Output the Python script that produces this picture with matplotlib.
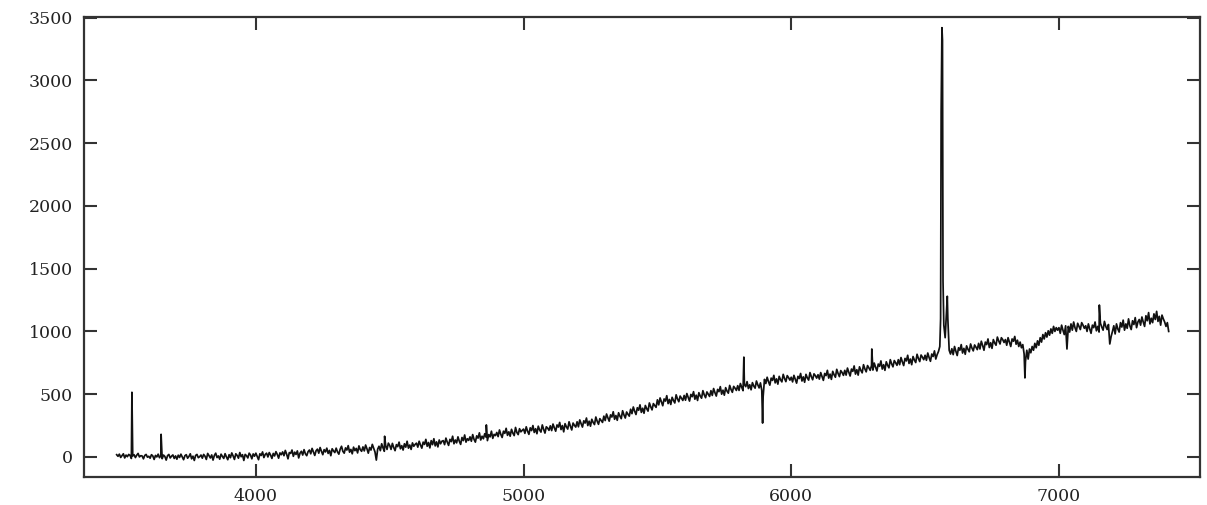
import numpy as np
import matplotlib
matplotlib.use("Agg")
import matplotlib.pyplot as plt

wave_start = 3480
wave_step = 5
flux_grid = [
    18, 5, 22, -4,                                                                          # 3480
    10, 25, -8, 15, 2, 20, 12, -12, 8, 18, -5, 14, 28, 0, 10, 8, -15, 12, 20, -2,           # 3500
    5, -10, 18, 8, -20, 12, 0, 22, -6, 10, -14, 15, 4, -25, 10, 20, -8, 6, 16, -12,         # 3600
    8, -18, 14, -4, 22, 0, -22, 10, 18, -10, 4, 25, -15, 6, -28, 12, 20, -6, 2, 15,         # 3700
    -10, 20, 6, -20, 28, 10, -8, 16, -25, 12, 30, -5, 8, -18, 22, 4, -12, 26, 0, -22,       # 3800
    18, -6, 32, 8, -20, 25, 12, -10, 35, 2, 18, -28, 20, 10, -8, 30, 15, -15, 24, 6,        # 3900
    30, 5, -22, 25, 12, 40, -5, 20, 30, 0, 35, 15, -12, 28, 8, 42, 20, -10, 32, 18,         # 4000
    40, 10, 52, 22, -15, 35, 28, 55, 5, 38, 20, 48, -8, 30, 45, 15, 58, 25, 10, 42,         # 4100
    55, 25, 68, 40, 12, 50, 62, 30, 75, 45, 18, 58, 40, 70, 28, 52, 10, 65, 48, 35,         # 4200
    70, 40, 22, 62, 85, 45, 30, 72, 55, 90, 38, 60, 25, 78, 50, 68, 32, 88, 58, 45,         # 4300
    80, 48, 95, 65, 30, 75, 55, 100, 70, 40, -25, 62, 85, 50, 105, 72, 45, 90, 60, 110,     # 4400
    92, 60, 108, 75, 50, 98, 82, 118, 65, 90, 55, 105, 78, 125, 70, 95, 60, 112, 85, 100,   # 4500
    110, 78, 125, 95, 70, 118, 100, 140, 85, 115, 72, 130, 98, 145, 88, 120, 80, 135, 105, 125,        # 4600
    130, 98, 150, 118, 92, 140, 122, 165, 105, 135, 112, 160, 125, 100, 155, 130, 175, 118, 145, 132,  # 4700
    160, 125, 178, 140, 118, 168, 150, 192, 135, 165, 145, 185, 158, 130, 178, 160, 205, 148, 180, 170,  # 4800
    195, 162, 215, 180, 155, 205, 188, 228, 172, 200, 165, 220, 190, 170, 235, 195, 178, 225, 200, 212,  # 4900
    222, 188, 240, 205, 180, 232, 210, 250, 195, 225, 185, 245, 215, 198, 255, 220, 190, 240, 230, 212,  # 5000
    248, 210, 262, 232, 205, 255, 238, 275, 218, 250, 200, 265, 240, 222, 280, 245, 215, 270, 252, 238,  # 5100
    280, 240, 295, 265, 238, 288, 270, 310, 250, 285, 245, 300, 275, 258, 318, 285, 260, 305, 290, 275,  # 5200
    325, 290, 342, 312, 285, 335, 318, 360, 300, 330, 292, 352, 325, 305, 368, 335, 310, 358, 340, 325,  # 5300
    380, 345, 398, 365, 338, 392, 372, 415, 355, 388, 348, 410, 385, 365, 430, 400, 375, 425, 410, 395,  # 5400
    455, 415, 470, 440, 408, 462, 445, 488, 425, 458, 418, 475, 450, 430, 495, 462, 440, 485, 468, 450,  # 5500
    490, 452, 505, 475, 445, 498, 480, 520, 460, 492, 450, 512, 485, 468, 528, 495, 472, 518, 500, 482,  # 5600
    528, 490, 545, 512, 485, 538, 520, 560, 500, 532, 492, 552, 525, 508, 570, 538, 515, 562, 548, 530,  # 5700
    568, 530, 585, 555, 528, 578, 560, 600, 545, 575, 535, 592, 565, 548, 605, 575, 550, 590, 530, 480,  # 5800
    618, 585, 635, 600, 572, 628, 610, 650, 590, 622, 580, 642, 615, 598, 658, 625, 600, 648, 632, 612,  # 5900
    635, 598, 650, 618, 588, 642, 625, 665, 605, 638, 595, 658, 630, 612, 672, 640, 615, 662, 648, 628,  # 6000
    655, 620, 672, 640, 610, 665, 648, 690, 628, 660, 618, 682, 655, 635, 698, 665, 640, 688, 672, 650,  # 6100
    690, 652, 708, 675, 645, 700, 682, 725, 660, 695, 652, 718, 690, 670, 735, 702, 678, 728, 710, 690,  # 6200
    730, 692, 748, 715, 685, 740, 722, 765, 700, 735, 690, 758, 730, 710, 775, 742, 718, 768, 750, 730,  # 6300
    775, 735, 792, 758, 728, 785, 765, 810, 745, 780, 735, 800, 772, 752, 818, 785, 760, 812, 795, 775,  # 6400
    810, 770, 828, 792, 762, 820, 800, 845, 780, 815, 840, 880, 2750, 3320, 1050, 950, 1150, 1100, 850, 820,  # 6500
    862, 815, 880, 842, 808, 870, 850, 895, 828, 865, 818, 885, 858, 838, 900, 868, 845, 892, 875, 855,  # 6600
    905, 860, 922, 888, 850, 915, 895, 940, 872, 910, 865, 935, 908, 890, 955, 925, 900, 950, 935, 912,  # 6700
    935, 890, 950, 915, 880, 940, 922, 960, 898, 930, 880, 915, 870, 895, 820, 760, 850, 780, 860, 830,  # 6800
    880, 850, 905, 870, 925, 890, 950, 915, 975, 940, 990, 955, 1005, 970, 1020, 985, 1040, 1000, 1030, 1010,  # 6900
    1030, 985, 1050, 1010, 975, 1045, 860, 1040, 995, 1060, 1010, 1075, 1030, 1000, 1065, 1040, 1015, 1070, 1050, 1025,  # 7000
    1045, 1000, 1060, 1020, 985, 1050, 1030, 1075, 1005, 1040, 995, 1065, 1035, 1010, 1080, 1040, 1015, 1055, 900, 960,  # 7100
    1000, 1045, 980, 1060, 1020, 995, 1070, 1035, 1090, 1010, 1060, 1025, 1100, 1045, 1015, 1085, 1055, 1110, 1030, 1075,  # 7200
    1095, 1050, 1115, 1075, 1040, 1125, 1085, 1150, 1060, 1105, 1070, 1140, 1095, 1160, 1080, 1120, 1050, 1130, 1100, 1075,  # 7300
    1040, 1070, 1000,                                                                       # 7400
]

# narrow lines / spikes that fall between the grid points
line_wave = [3537, 3646, 4481, 4861, 5823, 5893, 6301,
             6558, 6562, 6563, 6567, 6583, 6873, 7151]
line_flux = [515, 180, 165, 255, 795, 270, 860,
             1100, 3200, 3420, 1400, 1280, 630, 1210]

x_ticks = [4000, 5000, 6000, 7000]
y_ticks = [0, 500, 1000, 1500, 2000, 2500, 3000, 3500]

# merge the grid and the line points into one sorted spectrum
grid_wave = wave_start + wave_step * np.arange(len(flux_grid))
wave = np.concatenate([grid_wave, line_wave])
flux = np.concatenate([flux_grid, line_flux])
order = np.argsort(wave, kind="stable")
wave, flux = wave[order], flux[order]

fig = plt.figure(figsize=(12.07, 5.05), dpi=100)
ax = fig.add_axes([0.0696, 0.0554, 0.9246, 0.9109])

ax.plot(wave, flux, color="#111111", linewidth=1.25)

ax.set_xlim(3358, 7527)
ax.set_ylim(-160, 3505)
ax.set_xticks(x_ticks)
ax.set_yticks(y_ticks)

for spine in ax.spines.values():
    spine.set_linewidth(1.6)
    spine.set_edgecolor("#333333")

ax.tick_params(direction="in", length=9.5, width=1.5, color="#333333",
               top=True, right=True, labelsize=12.5, pad=8,
               labelcolor="#222222")
for lbl in ax.get_xticklabels() + ax.get_yticklabels():
    lbl.set_family("DejaVu Serif")

fig.savefig("out.png", dpi=100, facecolor="white")
